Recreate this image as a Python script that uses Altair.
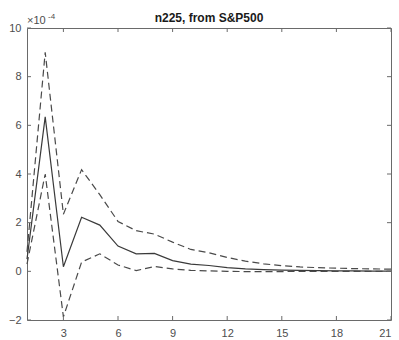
import altair as alt
import pandas as pd

t = list(range(1, 22))
mid = [0.5, 6.35, 0.19, 2.22, 1.9, 1.04, 0.72, 0.74, 0.44, 0.3, 0.24, 0.15, 0.1, 0.07, 0.05, 0.04, 0.03, 0.02, 0.02, 0.01, 0.01]
upper = [0.8, 9.0, 2.35, 4.18, 3.15, 2.05, 1.67, 1.53, 1.2, 0.9, 0.76, 0.57, 0.42, 0.31, 0.23, 0.18, 0.15, 0.13, 0.11, 0.1, 0.09]
lower = [0.3, 4.0, -1.87, 0.38, 0.72, 0.26, 0.03, 0.2, 0.1, 0.04, 0.02, 0.0, -0.01, -0.01, -0.01, 0.0, 0.0, 0.0, 0.0, 0.0, 0.0]
x_ticks = [3, 6, 9, 12, 15, 18, 21]
y_ticks = [-2, 0, 2, 4, 6, 8, 10]
title_text = "n225, from S&P500"

W, H = 364, 292
axis_col = "#4d4d4d"

df = pd.DataFrame({"t": t * 3,
                   "v": mid + upper + lower,
                   "s": ["mid"] * 21 + ["upper"] * 21 + ["lower"] * 21})

xs = alt.Scale(domain=[1, 21], nice=False, zero=False)
ys = alt.Scale(domain=[-2, 10], nice=False, zero=False)

base = alt.Chart(df)

x_axis = alt.Axis(values=x_ticks, grid=False, ticks=False, domain=False, title=None,
                  labelFontSize=11, labelColor=axis_col, labelPadding=7, labelFont="Liberation Sans")
y_axis = alt.Axis(values=y_ticks, grid=False, ticks=False, domain=False, title=None,
                  labelFontSize=11, labelColor=axis_col, labelPadding=6, labelFont="Liberation Sans")

solid = base.transform_filter(alt.datum.s == "mid").mark_line(color="#3a3a3a", strokeWidth=1.2).encode(
    x=alt.X("t:Q", scale=xs, axis=x_axis),
    y=alt.Y("v:Q", scale=ys, axis=y_axis),
)
dashed = base.transform_filter(alt.datum.s != "mid").mark_line(
    color="#4a4a4a", strokeWidth=1.2, strokeDash=[7, 4]).encode(
    x=alt.X("t:Q", scale=xs),
    y=alt.Y("v:Q", scale=ys),
    detail="s:N",
)

xt = pd.DataFrame({"x": x_ticks})
yt = pd.DataFrame({"y": y_ticks})
tick_col = "#6a6a6a"
xtick_b = alt.Chart(xt).mark_rule(color=tick_col, strokeWidth=1).encode(
    x=alt.X("x:Q", scale=xs), y=alt.value(H), y2=alt.value(H - 4))
xtick_t = alt.Chart(xt).mark_rule(color=tick_col, strokeWidth=1).encode(
    x=alt.X("x:Q", scale=xs), y=alt.value(0), y2=alt.value(4))
ytick_l = alt.Chart(yt).mark_rule(color=tick_col, strokeWidth=1).encode(
    y=alt.Y("y:Q", scale=ys), x=alt.value(0), x2=alt.value(4))
ytick_r = alt.Chart(yt).mark_rule(color=tick_col, strokeWidth=1).encode(
    y=alt.Y("y:Q", scale=ys), x=alt.value(W), x2=alt.value(W - 4))

one = pd.DataFrame({"k": [0]})
title = alt.Chart(one).mark_text(fontSize=12, fontWeight="bold", font="Liberation Sans",
                                 color="#1a1a1a", baseline="alphabetic", align="center").encode(
    x=alt.value(W / 2), y=alt.value(-6), text=alt.value(title_text))
exp1 = alt.Chart(one).mark_text(fontSize=11, font="Liberation Sans", color=axis_col,
                                baseline="alphabetic", align="left").encode(
    x=alt.value(0), y=alt.value(-4), text=alt.value("\u00d710"))
exp2 = alt.Chart(one).mark_text(fontSize=8, font="Liberation Sans", color=axis_col,
                                baseline="alphabetic", align="left").encode(
    x=alt.value(21), y=alt.value(-9), text=alt.value("-4"))

chart = alt.layer(solid, dashed, xtick_b, xtick_t, ytick_l, ytick_r, title, exp1, exp2).properties(
    width=W, height=H,
    autosize=alt.AutoSizeParams(type="none"),
    padding={"left": 27, "top": 28, "right": 8, "bottom": 20},
    background="white",
).configure_view(stroke="#6a6a6a", strokeWidth=1)

chart.save("out.html", embed_options={"renderer": "svg", "actions": False})
